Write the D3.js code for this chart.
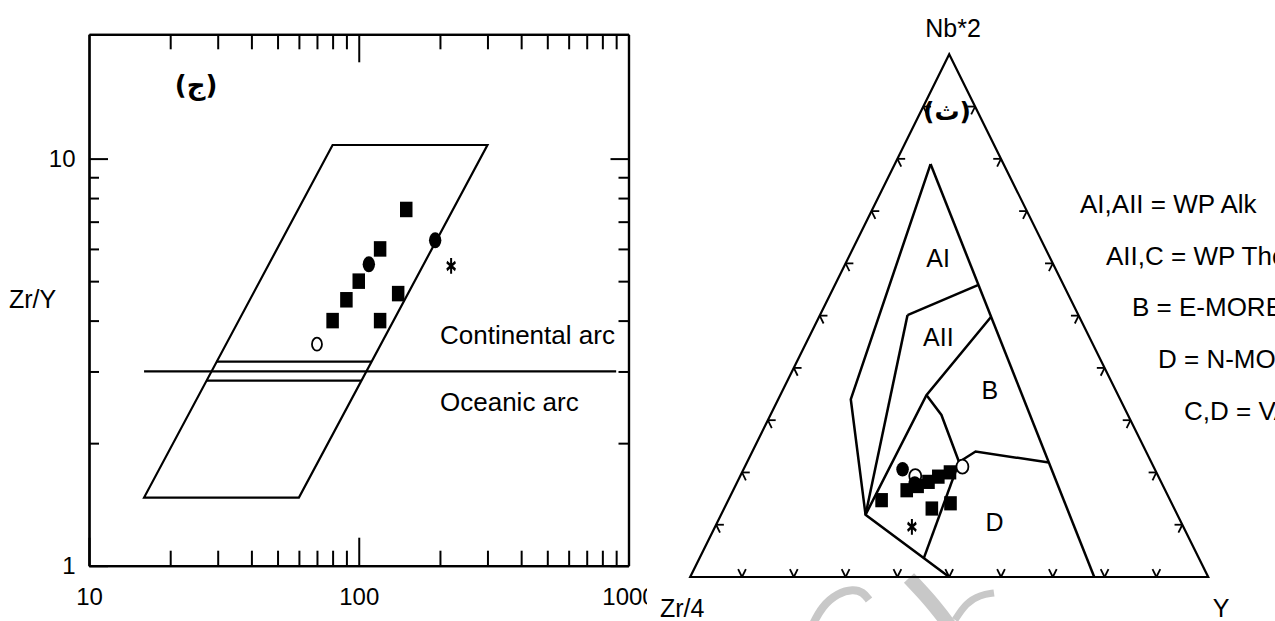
<!DOCTYPE html>
<html>
<head>
<meta charset="utf-8">
<script src="https://cdn.jsdelivr.net/npm/d3@7"></script>
<style>
  html, body { margin: 0; padding: 0; background: #fff; }
  svg { display: block; }
  text { font-family: "Liberation Sans", Arial, sans-serif; fill: #000; }
  .arabic { font-family: "DejaVu Sans", sans-serif; font-weight: bold; }
</style>
</head>
<body>
<svg id="chart" width="1275" height="621"></svg>
<script>
// ---------- Zr/Y vs Zr (log-log) ----------
// samples as [Zr ppm, Zr/Y], one array per symbol
const zrYSquares = [[150, 7.5], [120, 6.0], [100, 5.0], [90, 4.5], [140, 4.66], [80, 4.0], [120, 4.0]];
const zrYFilledCircles = [[192, 6.3], [109, 5.5]];
const zrYOpenCircles = [[70, 3.5]];
const zrYStars = [[220, 5.45]];

// arc field outline and the continental / oceanic divide
const arcField = [[16, 1.47], [60, 1.47], [300, 10.8], [80, 10.8]];
const arcDivide = [[16, 3], [900, 3]];
const arcBandLevels = [3.17, 2.85];
const arcLabels = [
  { text: "Continental arc", ratio: 3.5 },
  { text: "Oceanic arc", ratio: 2.4 }
];

const xMajorTicks = [10, 100, 1000];
const xMinorTicks = [20, 30, 40, 50, 60, 70, 80, 90, 200, 300, 400, 500, 600, 700, 800, 900];
const yMajorTicks = [1, 10];
const yMinorTicks = [2, 3, 4, 5, 6, 7, 8, 9];

// ---------- Meschede Nb*2 - Zr/4 - Y ternary ----------
const apexLabels = { top: "Nb*2", left: "Zr/4", right: "Y" };
// boundary polylines, each vertex as [Nb*2, Zr/4, Y] in %
const fieldLines = [
  [[79, 14.1, 6.9], [34, 52, 14], [11.9, 60.2, 27.9], [0, 50, 50]],
  [[79, 14.1, 6.9], [0, 22, 78]],
  [[50.1, 33, 16.9], [55.9, 16.4, 27.7]],
  [[50.1, 33, 16.9], [11.9, 60.2, 27.9]],
  [[49.8, 17, 33.2], [34.8, 37, 28.2], [11.9, 60.2, 27.9]],
  [[34.8, 37, 28.2], [31, 36, 33], [22, 37.1, 40.9]],
  [[22, 37.1, 40.9], [24, 32.9, 43.1], [21.9, 19.8, 58.3]],
  [[22, 37.1, 40.9], [3.6, 53.1, 43.3]]
];
const fieldNames = [
  { name: "AI", p: [60.9, 21.7, 17.4] },
  { name: "AII", p: [45.8, 29.2, 25.0] },
  { name: "B", p: [35.7, 24.3, 40.0] },
  { name: "D", p: [10.5, 36.0, 53.5] }
];
const legendLines = ["AI,AII = WP Alk", "AII,C = WP Tho", "B = E-MORB", "D = N-MORB", "C,D = VAB"];

const ternSquares = [
  [20.0, 39.8, 40.1], [19.2, 42.5, 38.3], [18.2, 44.9, 36.9], [17.4, 47.4, 35.2],
  [16.6, 49.9, 33.5], [14.7, 55.7, 29.6], [13.1, 46.8, 40.1], [14.1, 42.7, 43.2]
];
const ternFilledCircles = [[20.6, 48.7, 30.7], [17.9, 47.7, 34.4]];
const ternOpenCircles = [[19.3, 46.9, 33.8], [21.1, 36.9, 42.0]];
const ternStars = [[9.6, 52.4, 38.0]];
const ternTickSteps = [10, 20, 30, 40, 50, 60, 70, 80, 90];

const svg = d3.select("#chart");
const NUM_FONT = 24;
const WORD_FONT = 25;
const NOTE_FONT = 26;
const LINE_W = 2.2;

// ================= left panel =================
const x = d3.scaleLog().domain([10, 1000]).range([89, 628.5]);
const y = d3.scaleLog().domain([1, 20.2]).range([565.7, 34.3]);
const leftPanel = svg.append("g");

function styleAxis(g) {
  g.selectAll("path.domain").attr("stroke", "#000").attr("stroke-width", LINE_W);
  g.selectAll(".tick line").attr("stroke", "#000").attr("stroke-width", 2);
  g.selectAll(".tick text").attr("font-size", NUM_FONT).attr("font-family", "Liberation Sans, Arial, sans-serif").attr("fill", "#000");
}
const fmt = d => String(d);

const axBottom = leftPanel.append("g").attr("transform", `translate(0,${y(1)})`);
axBottom.append("g").call(d3.axisBottom(x).tickValues(xMinorTicks).tickSize(-15).tickSizeOuter(0).tickFormat("")).call(styleAxis);
axBottom.append("g").call(d3.axisBottom(x).tickValues(xMajorTicks).tickSize(-28).tickSizeOuter(0).tickPadding(22.3).tickFormat(fmt)).call(styleAxis);

const axTop = leftPanel.append("g").attr("transform", `translate(0,${y.range()[1]})`);
axTop.append("g").call(d3.axisTop(x).tickValues(xMinorTicks).tickSize(-15).tickSizeOuter(0).tickFormat("")).call(styleAxis);
axTop.append("g").call(d3.axisTop(x).tickValues([100]).tickSize(-28).tickSizeOuter(0).tickFormat("")).call(styleAxis);

const axLeft = leftPanel.append("g").attr("transform", `translate(${x(10)},0)`);
axLeft.append("g").call(d3.axisLeft(y).tickValues(yMinorTicks).tickSize(-10).tickSizeOuter(0).tickFormat("")).call(styleAxis);
axLeft.append("g").call(d3.axisLeft(y).tickValues(yMajorTicks).tickSize(-19).tickSizeOuter(0).tickPadding(13.5).tickFormat(fmt)).call(styleAxis);

const axRight = leftPanel.append("g").attr("transform", `translate(${x(1000)},0)`);
axRight.append("g").call(d3.axisRight(y).tickValues(yMinorTicks).tickSize(-10).tickSizeOuter(0).tickFormat("")).call(styleAxis);
axRight.append("g").call(d3.axisRight(y).tickValues(yMajorTicks).tickSize(-18).tickSizeOuter(0).tickFormat("")).call(styleAxis);

// arc field parallelogram
leftPanel.append("path").datum(arcField)
  .attr("d", d3.line().x(d => x(d[0])).y(d => y(d[1])).curve(d3.curveLinearClosed))
  .attr("fill", "none").attr("stroke", "#000").attr("stroke-width", LINE_W).attr("stroke-linejoin", "miter");
leftPanel.append("path").datum(arcDivide).attr("d", d3.line().x(d => x(d[0])).y(d => y(d[1])))
  .attr("fill", "none").attr("stroke", "#000").attr("stroke-width", LINE_W);

// band lines run between the slanted field edges (interpolated in log space)
function edgeAt(a, b, level) {
  const t = (Math.log10(level) - Math.log10(a[1])) / (Math.log10(b[1]) - Math.log10(a[1]));
  return Math.pow(10, Math.log10(a[0]) + t * (Math.log10(b[0]) - Math.log10(a[0])));
}
arcBandLevels.forEach(level => {
  const zrL = edgeAt(arcField[0], arcField[3], level);
  const zrR = edgeAt(arcField[1], arcField[2], level);
  leftPanel.append("line").attr("x1", x(zrL)).attr("x2", x(zrR)).attr("y1", y(level)).attr("y2", y(level))
    .attr("stroke", "#000").attr("stroke-width", LINE_W);
});

leftPanel.selectAll("text.arc").data(arcLabels).join("text").attr("class", "arc")
  .attr("x", 440).attr("y", d => y(d.ratio)).attr("font-size", NOTE_FONT).text(d => d.text);

leftPanel.append("text").attr("x", 9).attr("y", 308).attr("font-size", WORD_FONT).text("Zr/Y");
leftPanel.append("text").attr("class", "arabic").attr("x", 196).attr("y", 94).attr("text-anchor", "middle")
  .attr("font-size", 26).text("(ج)");

// symbols
function drawSquares(g, pts, px, py, w, h) {
  g.selectAll(null).data(pts).join("rect")
    .attr("x", d => px(d) - w / 2).attr("y", d => py(d) - h / 2).attr("width", w).attr("height", h).attr("fill", "#000");
}
function drawEllipses(g, pts, px, py, filled, rx, ry) {
  g.selectAll(null).data(pts).join("ellipse")
    .attr("cx", px).attr("cy", py).attr("rx", rx).attr("ry", ry)
    .attr("fill", filled ? "#000" : "#fff").attr("stroke", "#000").attr("stroke-width", filled ? 0 : 1.8);
}
function drawStars(g, pts, px, py) {
  g.selectAll(null).data(pts).join("path")
    .attr("d", d3.symbol(d3.symbolAsterisk, 110)())
    .attr("transform", d => `translate(${px(d)},${py(d)}) scale(0.8,1.25)`)
    .attr("stroke", "#000").attr("stroke-width", 2.5).attr("fill", "none");
}
const lx = d => x(d[0]), ly = d => y(d[1]);
drawEllipses(leftPanel, zrYOpenCircles, lx, ly, false, 5, 6.5);
drawEllipses(leftPanel, zrYFilledCircles, lx, ly, true, 6.2, 8);
drawSquares(leftPanel, zrYSquares, lx, ly, 12.5, 15.5);
drawStars(leftPanel, zrYStars, lx, ly);

// ================= right panel =================
const rightPanel = svg.append("g");
rightPanel.append("rect").attr("x", 647).attr("y", 0).attr("width", 1275 - 647).attr("height", 621).attr("fill", "#fff");

// faint stamp under the base line
const stamp = rightPanel.append("g").attr("fill", "none").attr("stroke", "#c8c8c8");
const stampStroke = d3.line().curve(d3.curveBasis);
stamp.append("path").attr("d", stampStroke([[812, 626], [822, 606], [838, 593], [853, 589], [863, 592], [869, 600]])).attr("stroke-width", 8);
stamp.append("path").attr("d", stampStroke([[909, 578], [930, 600], [950, 626]])).attr("stroke-width", 14);
stamp.append("path").attr("d", stampStroke([[955, 620], [966, 603], [980, 595], [994, 593]])).attr("stroke-width", 7);

const tx = d3.scaleLinear().domain([0, 100]).range([690.2, 1208.2]);
const ty = d3.scaleLinear().domain([0, 100]).range([577, 54.3]);
function project(p) {
  const s = p[0] + p[1] + p[2];
  const nb = 100 * p[0] / s, yy = 100 * p[2] / s;
  return [tx(yy + nb / 2), ty(nb)];
}
const tline = d3.line().x(d => project(d)[0]).y(d => project(d)[1]);

// outline
rightPanel.append("path").datum([[100, 0, 0], [0, 100, 0], [0, 0, 100]])
  .attr("d", d3.line().x(d => project(d)[0]).y(d => project(d)[1]).curve(d3.curveLinearClosed))
  .attr("fill", "none").attr("stroke", "#000").attr("stroke-width", LINE_W).attr("stroke-linejoin", "miter");

// edge ticks: two short strokes parallel to the other two sides
const tickLen = 1.5;
const tickSegs = [];
ternTickSteps.forEach(k => {
  const base = [0, 100 - k, k];
  tickSegs.push([base, [tickLen, 100 - k - tickLen, k]], [base, [tickLen, 100 - k, k - tickLen]]);
  const lft = [k, 100 - k, 0];
  tickSegs.push([lft, [k, 100 - k - tickLen, tickLen]], [lft, [k - tickLen, 100 - k, tickLen]]);
  const rgt = [k, 0, 100 - k];
  tickSegs.push([rgt, [k, tickLen, 100 - k - tickLen]], [rgt, [k - tickLen, tickLen, 100 - k]]);
});
rightPanel.selectAll("path.tick").data(tickSegs).join("path").attr("class", "tick")
  .attr("d", tline)
  .attr("fill", "none").attr("stroke", "#000").attr("stroke-width", 1.8);

// field boundaries
rightPanel.selectAll("path.field").data(fieldLines).join("path").attr("class", "field")
  .attr("d", tline)
  .attr("fill", "none").attr("stroke", "#000").attr("stroke-width", 2.5).attr("stroke-linejoin", "miter");

rightPanel.selectAll("text.fname").data(fieldNames).join("text").attr("class", "fname")
  .attr("x", d => project(d.p)[0]).attr("y", d => project(d.p)[1]).attr("dy", "0.35em")
  .attr("text-anchor", "middle").attr("font-size", WORD_FONT).text(d => d.name);

// apex labels
rightPanel.append("text").attr("x", 953).attr("y", 37).attr("text-anchor", "middle").attr("font-size", WORD_FONT).text(apexLabels.top);
rightPanel.append("text").attr("x", 660).attr("y", 617).attr("font-size", WORD_FONT).text(apexLabels.left);
rightPanel.append("text").attr("x", 1221).attr("y", 617).attr("text-anchor", "middle").attr("font-size", WORD_FONT).text(apexLabels.right);
rightPanel.append("text").attr("class", "arabic").attr("x", 947).attr("y", 120).attr("text-anchor", "middle")
  .attr("font-size", 25).text("(ث)");

// legend of field abbreviations, each line stepped to the right
rightPanel.selectAll("text.legend").data(legendLines).join("text").attr("class", "legend")
  .attr("x", (d, i) => 1080 + i * 26).attr("y", (d, i) => 213 + i * 51.7).attr("font-size", NOTE_FONT).text(d => d);

// samples
const rx = d => project(d)[0], ry = d => project(d)[1];
drawEllipses(rightPanel, ternOpenCircles, rx, ry, false, 6, 7);
drawEllipses(rightPanel, ternFilledCircles, rx, ry, true, 6.3, 7.3);
drawSquares(rightPanel, ternSquares, rx, ry, 12.6, 14.2);
drawStars(rightPanel, ternStars, rx, ry);
</script>
</body>
</html>
